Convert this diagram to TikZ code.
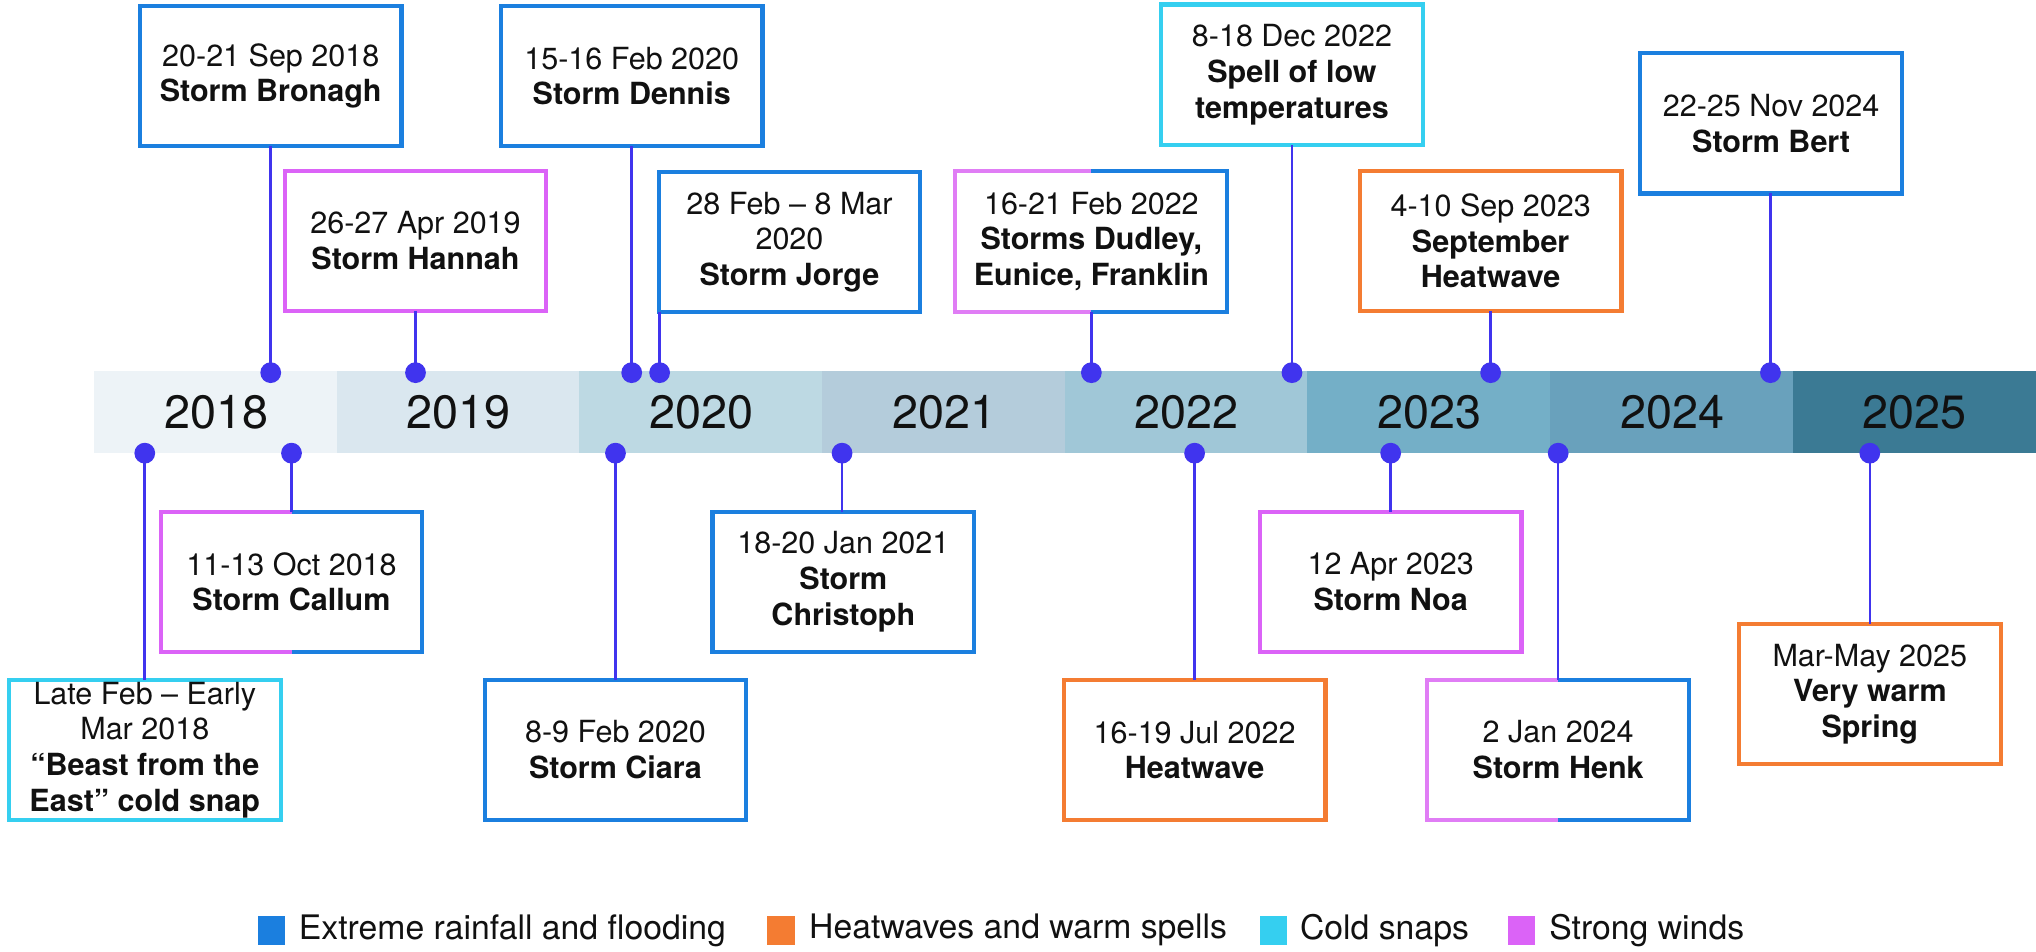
\documentclass[tikz,border=0pt]{standalone}
\usepackage{fontspec}
\setmainfont{TeX Gyre Heros}
\usetikzlibrary{calc}

% category colours
\definecolor{rain}{HTML}{1B7FDF}
\definecolor{heat}{HTML}{F47C32}
\definecolor{cold}{HTML}{35CFF0}
\definecolor{wind}{HTML}{DB63F7}
\definecolor{windsoft}{HTML}{E07DF5}
\definecolor{stem}{HTML}{4034EE}
\definecolor{ink}{HTML}{111111}
% year band shades
\definecolor{yA}{HTML}{EDF3F7}
\definecolor{yB}{HTML}{DAE7EF}
\definecolor{yC}{HTML}{BDD9E3}
\definecolor{yD}{HTML}{B4CCDB}
\definecolor{yE}{HTML}{A0C7D7}
\definecolor{yF}{HTML}{74AFC7}
\definecolor{yG}{HTML}{69A1BC}
\definecolor{yH}{HTML}{3B7A94}

\newcommand\evfont{\fontsize{23.5}{27.5}\selectfont}
\newcommand\yrfont{\fontsize{36}{40}\selectfont}
\newcommand\lgfont{\fontsize{26}{30}\selectfont}

\tikzset{
  event/.style={draw, line width=3.2pt, fill=white, minimum width=201.5pt,
    minimum height=108pt, inner sep=0pt, outer sep=0pt, align=center,
    text=ink, font=\evfont},
  wide/.style={minimum width=209.5pt},
  split/.style={event, draw=none},
  half/.style={line width=3.2pt},
  yearseg/.style={minimum width=188pt, minimum height=63pt, inner sep=0pt,
    outer sep=0pt, text=ink, font=\yrfont},
  pin/.style={circle, fill=stem, inner sep=0pt, minimum size=16pt},
  stemline/.style={draw=stem, line width=2pt},
  legsq/.style={minimum width=21pt, minimum height=22pt, inner sep=0pt},
  legtext/.style={anchor=west, text=ink, font=\lgfont, inner sep=0pt},
}

\begin{document}
\begin{tikzpicture}[x=1pt,y=-1pt]
\useasboundingbox (0,0) rectangle (1568,733);

% year band
\foreach \yr/\col [count=\i from 0] in
  {2018/yA,2019/yB,2020/yC,2021/yD,2022/yE,2023/yF,2024/yG,2025/yH}
  \node[yearseg, fill=\col] (y\yr) at ({73+186.875*(\i+0.5)},317.5) {\yr};

% date pins on the band
\foreach \nm/\px in {bronagh/208.5,hannah/320,dennis/486.5,jorge/508,
    dudley/840.5,spell/995,sept/1148,bert/1363.5}
  \node[pin] (p-\nm) at (\px,287) {};
\foreach \nm/\px in {beast/111.5,callum/224.5,ciara/474,christoph/648.5,
    heatjul/920,noa/1071,henk/1200,spring/1440}
  \node[pin] (p-\nm) at (\px,349) {};

% events above the band
\node[event, draw=rain] (bronagh) at (208.5,58.5) {20-21 Sep 2018\\\textbf{Storm Bronagh}};
\node[event, draw=wind] (hannah) at (320,185.5) {26-27 Apr 2019\\\textbf{Storm Hannah}};
\node[event, draw=rain] (dennis) at (486.5,58.5) {15-16 Feb 2020\\\textbf{Storm Dennis}};
\node[event, draw=rain] (jorge) at (608,186.5) {28 Feb – 8 Mar\\2020\\\textbf{Storm Jorge}};
\node[split, wide] (dudley) at (840.5,186) {16-21 Feb 2022\\\textbf{Storms Dudley,}\\\textbf{Eunice, Franklin}};
\node[event, draw=cold] (spell) at (995,57.5) {8-18 Dec 2022\\\textbf{Spell of low}\\\textbf{temperatures}};
\node[event, draw=heat] (sept) at (1148,185.5) {4-10 Sep 2023\\\textbf{September}\\\textbf{Heatwave}};
\node[event, draw=rain] (bert) at (1364,95) {22-25 Nov 2024\\\textbf{Storm Bert}};

% events below the band
\node[split] (callum) at (224.5,448) {11-13 Oct 2018\\\textbf{Storm Callum}};
\node[event, wide, draw=cold] (beast) at (111.5,577.5) {Late Feb – Early\\Mar 2018\\\textbf{“Beast from the}\\\textbf{East” cold snap}};
\node[event, draw=rain] (ciara) at (474,577.5) {8-9 Feb 2020\\\textbf{Storm Ciara}};
\node[event, draw=rain] (christoph) at (649.5,448) {18-20 Jan 2021\\\textbf{Storm}\\\textbf{Christoph}};
\node[event, draw=heat] (heatjul) at (920,577.5) {16-19 Jul 2022\\\textbf{Heatwave}};
\node[event, draw=wind] (noa) at (1071,448) {12 Apr 2023\\\textbf{Storm Noa}};
\node[split] (henk) at (1200,577.5) {2 Jan 2024\\\textbf{Storm Henk}};
\node[event, draw=heat] (spring) at (1440,534.5) {Mar-May 2025\\\textbf{Very warm}\\\textbf{Spring}};

% two-category frames: strong winds on the left, rainfall on the right
\foreach \nm/\lc in {callum/wind,dudley/windsoft,henk/windsoft}{
  \draw[half, draw=\lc] (\nm.north) -- (\nm.north west) -- (\nm.south west) -- (\nm.south);
  \draw[half, draw=rain] (\nm.north) -- (\nm.north east) -- (\nm.south east) -- (\nm.south);
}

% stems from pins to frames
\foreach \nm in {bronagh,hannah,dennis,jorge,dudley,spell,sept,bert}
  \draw[stemline] (p-\nm.center) -- (p-\nm.center |- \nm.south);
\foreach \nm in {beast,callum,ciara,christoph,heatjul,noa,henk,spring}
  \draw[stemline] (p-\nm.center) -- (p-\nm.center |- \nm.north);

% legend
\node[legsq, fill=rain] (k-rain) at (209,716.5) {};
\node[legtext] (t-rain) at (230,716.5) {Extreme rainfall and flooding};
\node[legsq, fill=heat] (k-heat) at (601.5,716.5) {};
\node[legtext] (t-heat) at (623,716.5) {Heatwaves and warm spells};
\node[legsq, fill=cold] (k-cold) at (981,716.5) {};
\node[legtext] (t-cold) at (1001,716.5) {Cold snaps};
\node[legsq, fill=wind] (k-wind) at (1171.5,716.5) {};
\node[legtext] (t-wind) at (1193,716.5) {Strong winds};
\end{tikzpicture}
\end{document}
